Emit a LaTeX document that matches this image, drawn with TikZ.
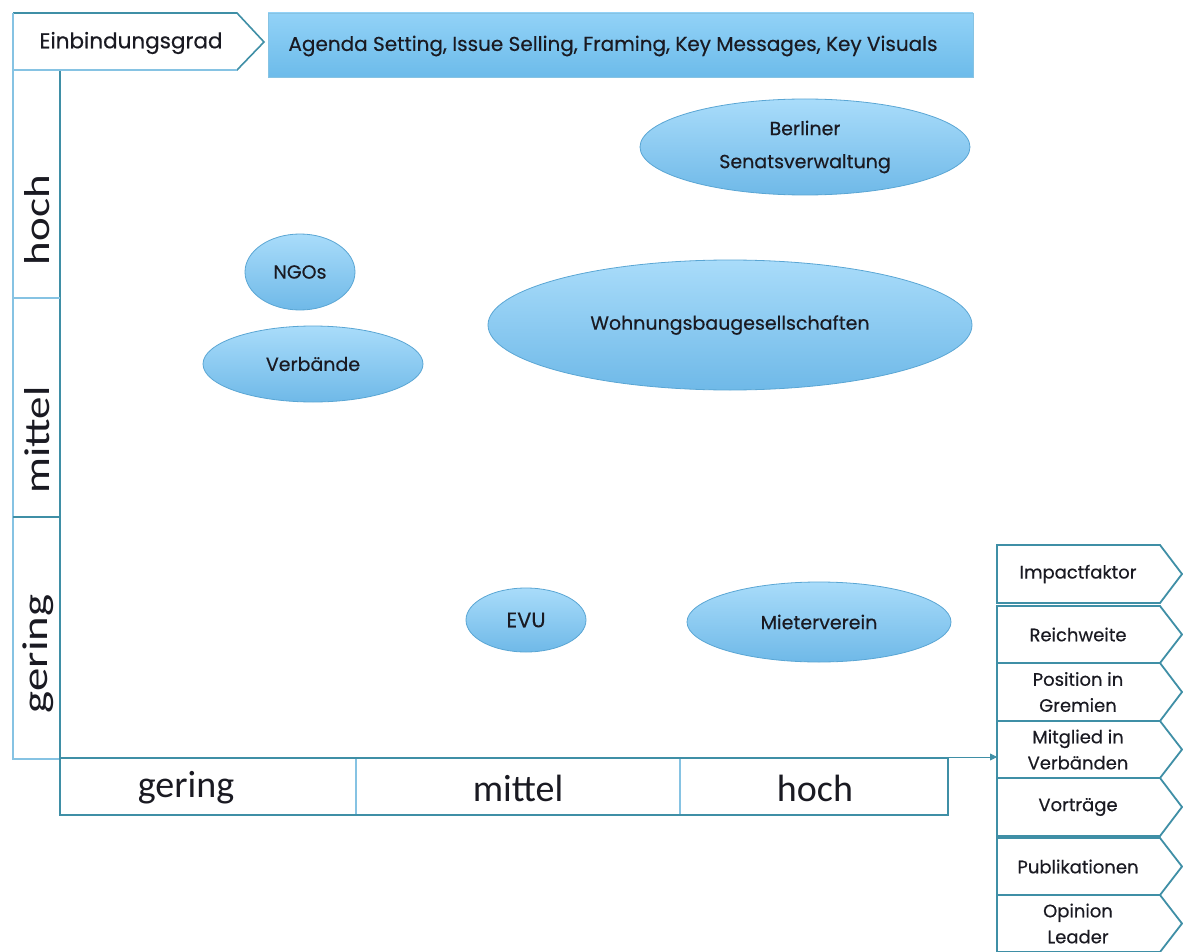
\documentclass[tikz,border=0pt]{standalone}
\usepackage{fontspec}
\setmainfont{Poppins}[FakeBold=0.4]
\newfontfamily\axisfont{Carlito}
\usetikzlibrary{arrows.meta,shapes.geometric}
\definecolor{lightline}{HTML}{86C3E3}
\definecolor{darkline}{HTML}{3F8FA6}
\definecolor{elltop}{HTML}{A9DCFA}
\definecolor{ellbot}{HTML}{6FB9E8}
\definecolor{ellborder}{HTML}{5AA6D4}
\definecolor{bartop}{HTML}{92D2F7}
\definecolor{barbot}{HTML}{6CBBEA}
\definecolor{txt}{HTML}{1A1A22}
\tikzset{
  actor/.style={ellipse, inner sep=0pt, draw=ellborder, line width=0.8pt,
    top color=elltop, bottom color=ellbot, text=txt, align=center,
    font=\fontsize{19}{33}\selectfont},
  chevshape/.style={draw=darkline, line width=1.8pt, fill=white, line join=miter},
  chevtext/.style={text=txt, align=center, font=\fontsize{18}{26}\selectfont, inner sep=0pt},
  axislabel/.style={text=txt, font=\axisfont\fontsize{38}{40}\selectfont, inner sep=0pt},
  vlabel/.style={text=txt, font=\axisfont\fontsize{36}{38}\selectfont, inner sep=0pt, rotate=90},
  outerline/.style={draw=lightline, line width=2.6pt},
  innerline/.style={draw=darkline, line width=1.6pt},
}
\newcommand\mychev[4]{%
  \draw[chevshape] (997,#2) -- (1160,#2) -- (1182,{(#2+#3)/2}) -- (1160,#3) -- (997,#3) -- cycle;
  \node[chevtext] (#1) at (1078,{(#2+#3)/2}) {#4};
}
\begin{document}
\begin{tikzpicture}[x=1pt,y=-1pt]
\useasboundingbox (0,0) rectangle (1183,952);
\fill[white] (0,0) rectangle (1183,952);

% top bar
\shade[top color=bartop, bottom color=barbot, draw=lightline, line width=0.6pt] (268,13) rectangle (973,77);
\node[text=txt, font=\fontsize{20}{22}\selectfont, inner sep=0pt] (agenda) at (613,46)
  {Agenda Setting, Issue Selling, Framing, Key Messages, Key Visuals};

% left strip
\draw[outerline] (13,13) -- (13,759) -- (60,759);
\draw[innerline] (60,70) -- (60,758);
\draw[outerline] (13,298) -- (60,298);
\draw[innerline] (13,517) -- (60,517);
\node[vlabel] (vhoch) at (37,220) {\scalebox{1.25}[1]{hoch}};
\node[vlabel] (vmittel) at (37,440) {\scalebox{1.25}[1]{mittel}};
\node[vlabel] (vgering) at (38,654) {\scalebox{1.3}[1]{gering}};

% Einbindungsgrad chevron
\draw[draw=darkline, line width=1.6pt, fill=white] (13,13) -- (237,13) -- (264,42) -- (237,70) -- (13,70);
\draw[outerline] (13,13) -- (13,70);
\draw[outerline] (13,70) -- (237,70);
\node[text=txt, font=\fontsize{21.5}{24}\selectfont, inner sep=0pt] (einb) at (131,43) {Einbindungsgrad};

% bottom axis row
\draw[innerline] (60,758) rectangle (948,815);
\draw[draw=lightline, line width=1.6pt] (356,759) -- (356,814);
\draw[draw=lightline, line width=1.6pt] (680,759) -- (680,814);
\node[axislabel] (hgering) at (186,788) {gering};
\node[axislabel] (hmittel) at (518,788) {mittel};
\node[axislabel] (hhoch) at (815,788) {hoch};

% ellipses
\node[actor, minimum width=330, minimum height=96] (senat) at (805,147) {Berliner\\Senatsverwaltung};
\node[actor, minimum width=110, minimum height=76] (ngo) at (300,272) {NGOs};
\node[actor, minimum width=220, minimum height=76] (verb) at (313,364) {Verbände};
\node[actor, minimum width=484, minimum height=130] (wohn) at (730,325) {Wohnungsbaugesellschaften};
\node[actor, minimum width=120, minimum height=64, font=\fontsize{21}{24}\selectfont] (evu) at (526,620) {EVU};
\node[actor, minimum width=264, minimum height=80] (mieter) at (819,622) {Mieterverein};

% right chevrons
\mychev{impact}{545}{603}{Impactfaktor}
\mychev{reich}{606}{663}{Reichweite}
\mychev{pos}{663}{721}{Position in\\Gremien}
\mychev{mitgl}{721}{778}{Mitglied in\\Verbänden}
\mychev{vortr}{778}{836}{Vorträge}
\mychev{publ}{838}{895}{Publikationen}
\mychev{opin}{895}{952}{Opinion\\Leader}

% arrow
\coordinate (axend) at (948,757);
\coordinate (arrowtip) at (997,757);
\draw[draw=darkline, line width=0.8pt, -{Triangle[length=7pt,width=7pt]}] (axend) -- (arrowtip);
\end{tikzpicture}
\end{document}
